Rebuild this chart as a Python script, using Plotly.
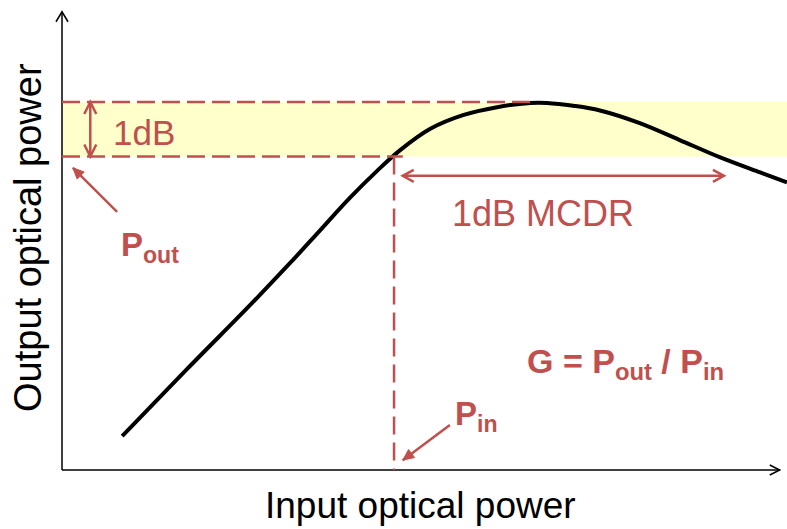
import math
import plotly.graph_objects as go

# Output vs input optical power of an amplifier (arbitrary linear units)
curve_x = [0.83, 1.72, 2.62, 3.15, 3.56, 3.97, 4.35, 4.66, 5.08, 5.53, 6.00, 6.46, 6.69,
           7.05, 7.42, 7.97, 8.52, 9.08, 9.63, 10.0]
curve_y = [0.72, 2.14, 3.55, 4.41, 5.10, 5.79, 6.37, 6.80, 7.26, 7.55, 7.72, 7.81, 7.81,
           7.75, 7.65, 7.38, 7.02, 6.65, 6.33, 6.12]

# Key levels
p_sat = 7.83        # peak output power
p_out = 6.67        # output power 1 dB below the peak
p_in = 4.58         # input power where the curve reaches p_out
peak_x = 6.48       # input power at the peak
mcdr_start = 4.70   # span of the 1 dB MCDR arrow
mcdr_end = 9.13
mcdr_level = 6.26
db_arrow_x = 0.39

x_axis_end = 9.90
y_axis_end = 9.75

RED = "#C0504D"
FONT = "Liberation Sans, Arial, sans-serif"

W, H = 787, 529
X_MIN, X_MAX = -0.8552, 10.0
Y_MIN, Y_MAX = -1.2553, 10.0
PX_X = W / (X_MAX - X_MIN)
PX_Y = H / (Y_MAX - Y_MIN)


def head_points(tip, tail, length, half):
    dx = (tip[0] - tail[0]) * PX_X
    dy = (tip[1] - tail[1]) * PX_Y
    n = math.hypot(dx, dy)
    ux, uy = dx / n, dy / n
    px, py = -uy, ux
    a1 = (tip[0] + (-length * ux + half * px) / PX_X, tip[1] + (-length * uy + half * py) / PX_Y)
    a2 = (tip[0] + (-length * ux - half * px) / PX_X, tip[1] + (-length * uy - half * py) / PX_Y)
    return a1, a2


def chevron(tip, tail, length=11, half=6):
    """Open arrowhead path at `tip`, pointing away from `tail` (sizes in px)."""
    a1, a2 = head_points(tip, tail, length, half)
    return f"M {a1[0]},{a1[1]} L {tip[0]},{tip[1]} L {a2[0]},{a2[1]}"


def triangle(tip, tail, length=11, half=5):
    """Filled arrowhead path at `tip`."""
    a1, a2 = head_points(tip, tail, length, half)
    return f"M {a1[0]},{a1[1]} L {tip[0]},{tip[1]} L {a2[0]},{a2[1]} Z"


fig = go.Figure()

shapes = []
# 1 dB band
shapes.append(dict(type="rect", x0=0, x1=X_MAX, y0=p_out, y1=p_sat,
                   fillcolor="#FFFFCC", line=dict(width=0), layer="below"))
# axes
axis_line = dict(color="black", width=1.5)
shapes.append(dict(type="line", x0=0, y0=0, x1=x_axis_end, y1=0, line=axis_line))
shapes.append(dict(type="line", x0=0, y0=0, x1=0, y1=y_axis_end, line=axis_line))
shapes.append(dict(type="path", path=chevron((x_axis_end, 0), (0, 0), 10, 5), line=axis_line))
shapes.append(dict(type="path", path=chevron((0, y_axis_end), (0, 0), 10, 6), line=axis_line))

# dashed guides
dash = dict(color=RED, width=2.5, dash="18px,7px")
shapes.append(dict(type="line", x0=0, y0=p_sat, x1=peak_x, y1=p_sat, line=dash))
shapes.append(dict(type="line", x0=0, y0=p_out, x1=p_in + 0.12, y1=p_out, line=dash))
shapes.append(dict(type="line", x0=p_in, y0=p_out, x1=p_in, y1=0,
                   line=dict(color=RED, width=2.5, dash="18px,8px")))

red_line = dict(color=RED, width=2.5)
# 1 dB double arrow
shapes.append(dict(type="line", x0=db_arrow_x, y0=p_out, x1=db_arrow_x, y1=p_sat, line=red_line))
shapes.append(dict(type="path", path=chevron((db_arrow_x, p_sat), (db_arrow_x, p_out), 12, 6), line=red_line))
shapes.append(dict(type="path", path=chevron((db_arrow_x, p_out), (db_arrow_x, p_sat), 12, 6), line=red_line))
# MCDR double arrow
shapes.append(dict(type="line", x0=mcdr_start, y0=mcdr_level, x1=mcdr_end, y1=mcdr_level, line=red_line))
shapes.append(dict(type="path", path=chevron((mcdr_start, mcdr_level), (mcdr_end, mcdr_level), 11, 6), line=red_line))
shapes.append(dict(type="path", path=chevron((mcdr_end, mcdr_level), (mcdr_start, mcdr_level), 11, 6), line=red_line))
# pointer arrows for P_out and P_in
pout_tail, pout_tip = (0.76, 5.49), (0.15, 6.43)
pin_tail, pin_tip = (5.35, 0.96), (4.70, 0.21)
for tail, tip in [(pout_tail, pout_tip), (pin_tail, pin_tip)]:
    shapes.append(dict(type="line", x0=tail[0], y0=tail[1], x1=tip[0], y1=tip[1], line=red_line))
    shapes.append(dict(type="path", path=triangle(tip, tail, 11, 5),
                       line=dict(color=RED, width=1), fillcolor=RED))

fig.add_trace(go.Scatter(x=curve_x, y=curve_y, mode="lines",
                         line=dict(color="black", width=4, shape="spline", smoothing=1.0),
                         hoverinfo="skip", showlegend=False))

annotations = [
    dict(x=0.68, y=7.18, text="1dB", xanchor="left", yanchor="middle",
         font=dict(size=35, color=RED, family=FONT)),
    dict(x=6.63, y=5.45, text="1dB MCDR", xanchor="center", yanchor="middle",
         font=dict(size=36, color=RED, family=FONT)),
    dict(x=0.78, y=4.75, text="<b>P<sub>out</sub></b>", xanchor="left", yanchor="middle",
         font=dict(size=33, color=RED, family=FONT)),
    dict(x=5.39, y=1.15, text="<b>P<sub>in</sub></b>", xanchor="left", yanchor="middle",
         font=dict(size=33, color=RED, family=FONT)),
    dict(x=6.39, y=2.26, text="<b>G = P<sub>out</sub> / P<sub>in</sub></b>", xanchor="left", yanchor="middle",
         font=dict(size=34, color=RED, family=FONT)),
    dict(x=4.95, y=-0.75, text="Input optical power", xanchor="center", yanchor="middle",
         font=dict(size=37, color="black", family=FONT)),
    dict(x=-0.46, y=4.95, text="Output optical power", textangle=-90, xanchor="center", yanchor="middle",
         font=dict(size=38, color="black", family=FONT)),
]
for a in annotations:
    a.update(xref="x", yref="y", showarrow=False)

fig.update_layout(
    width=W, height=H,
    margin=dict(l=0, r=0, t=0, b=0),
    paper_bgcolor="white", plot_bgcolor="white",
    xaxis=dict(range=[X_MIN, X_MAX], visible=False, fixedrange=True),
    yaxis=dict(range=[Y_MIN, Y_MAX], visible=False, fixedrange=True),
    shapes=shapes, annotations=annotations, showlegend=False,
)

fig.write_html("out.html")
